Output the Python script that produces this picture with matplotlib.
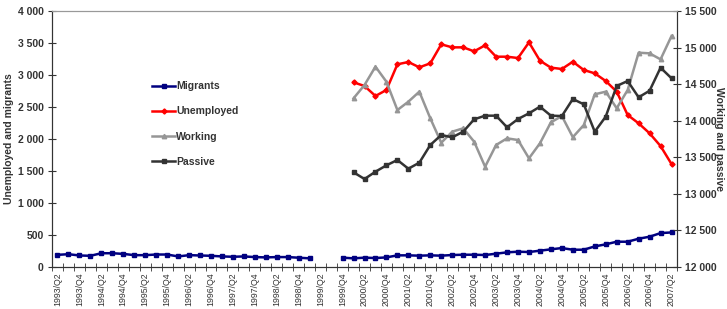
import numpy as np
import matplotlib
matplotlib.use("Agg")
import matplotlib.pyplot as plt
from matplotlib.ticker import FuncFormatter, FixedLocator

plt.rcParams['font.family'] = ['Liberation Sans', 'DejaVu Sans']

# ================== DATA ==================
years = list(range(1993, 2008))
quarters = [f"{y}/Q{q}" for y in years for q in (1, 2, 3, 4)]
quarters = quarters[1:quarters.index("2007/Q2") + 1]   # 1993/Q2 .. 2007/Q2

nan = np.nan

migrants_9399 = [190, 200, 180, 175, 215, 215, 205, 185, 185, 195, 195, 165,
                 185, 180, 175, 165, 160, 165, 155, 150, 155, 155, 145, 135]
migrants_9907 = [146, 135, 146, 140, 150, 182, 182, 177, 182, 177, 187, 192,
                 192, 187, 208, 229, 239, 234, 255, 276, 296, 270, 270, 322,
                 354, 395, 395, 442, 473, 530, 540]

unemployed_0007 = [2886, 2828, 2672, 2766, 3167, 3203, 3120, 3182, 3479, 3432,
                   3432, 3370, 3464, 3286, 3286, 3265, 3510, 3224, 3115, 3094,
                   3208, 3078, 3026, 2906, 2740, 2375, 2245, 2089, 1890, 1609]
working_0007 = [14306, 14488, 14739, 14533, 14146, 14260, 14397, 14033, 13699, 13850,
                13896, 13713, 13371, 13668, 13759, 13736, 13486, 13691, 13978, 14064,
                13775, 13941, 14361, 14397, 14170, 14420, 14930, 14921, 14839, 15158]
passive_0007 = [13295, 13203, 13303, 13390, 13463, 13344, 13426, 13668, 13805, 13773,
                13850, 14019, 14069, 14069, 13910, 14023, 14101, 14192, 14069, 14064,
                14297, 14224, 13850, 14056, 14475, 14543, 14320, 14410, 14725, 14580]

# 1999/Q2 and 1999/Q3 missing for migrants, others start in 2000/Q1
migrants = migrants_9399 + [nan, nan] + migrants_9907
lead = [nan] * (len(quarters) - len(unemployed_0007))
unemployed = lead + unemployed_0007
working = lead + working_0007
passive = lead + passive_0007

# ================== PLOT ==================
fig = plt.figure(figsize=(7.27, 3.09), dpi=100)
ax = fig.add_axes([52 / 727, 1 - 267 / 309, 625 / 727, 256 / 309])
ax2 = ax.twinx()

x = np.arange(len(quarters))
l1, = ax.plot(x, migrants, color="#000080", lw=1.8, marker="s", ms=3.2,
              markeredgecolor="#000080", label="Migrants")
l2, = ax.plot(x, unemployed, color="#ff0000", lw=1.8, marker="D", ms=2.6,
              label="Unemployed")
l3, = ax2.plot(x, working, color="#969696", lw=1.8, marker="^", ms=3.2,
               label="Working")
l4, = ax2.plot(x, passive, color="#333333", lw=1.8, marker="s", ms=3.2,
               label="Passive")

ax.set_xlim(-0.5, len(quarters) - 0.5)
ax.set_ylim(0, 4000)
ax2.set_ylim(12000, 15500)
ax.set_yticks(np.arange(0, 4001, 500))
ax2.set_yticks(np.arange(12000, 15501, 500))

fmt = FuncFormatter(lambda v, p: f"{int(v):,}".replace(",", " "))
ax.yaxis.set_major_formatter(fmt)
ax2.yaxis.set_major_formatter(fmt)

# category axis: ticks between quarters, labels every second quarter
ax.xaxis.set_major_locator(FixedLocator(x[::2]))
ax.set_xticklabels(quarters[::2], rotation=90, fontsize=6.3, color="#333333")
ax.xaxis.set_minor_locator(FixedLocator(np.arange(-0.5, len(quarters), 1)))
ax.tick_params(axis="x", which="major", length=0, pad=4)
ax.tick_params(axis="x", which="minor", length=6, direction="inout",
               color="#333333")

for a in (ax, ax2):
    a.tick_params(axis="y", length=6, direction="inout", color="#333333",
                  labelsize=7.5, labelcolor="#333333", pad=3)
    for lab in a.get_yticklabels():
        lab.set_fontweight("bold")
    for s in ("left", "right", "bottom"):
        a.spines[s].set_color("#333333")
    a.spines["top"].set_color("#999999")

ax.set_ylabel("Unemployed and migrants", fontsize=7.5, fontweight="bold",
              color="#333333", labelpad=3)
ax2.set_ylabel("Working and passive", fontsize=7.5, fontweight="bold",
               color="#333333", rotation=-90, labelpad=5)

leg = ax.legend(handles=[l1, l2, l3, l4], loc="upper left",
                bbox_to_anchor=(143 / 727, 1 - 72 / 309), bbox_transform=fig.transFigure,
                frameon=False, handlelength=2.2, handletextpad=0.1,
                labelspacing=1.45, prop={"size": 7.5, "weight": "bold"})
for t in leg.get_texts():
    t.set_color("#333333")

fig.savefig("out.png", dpi=100)
